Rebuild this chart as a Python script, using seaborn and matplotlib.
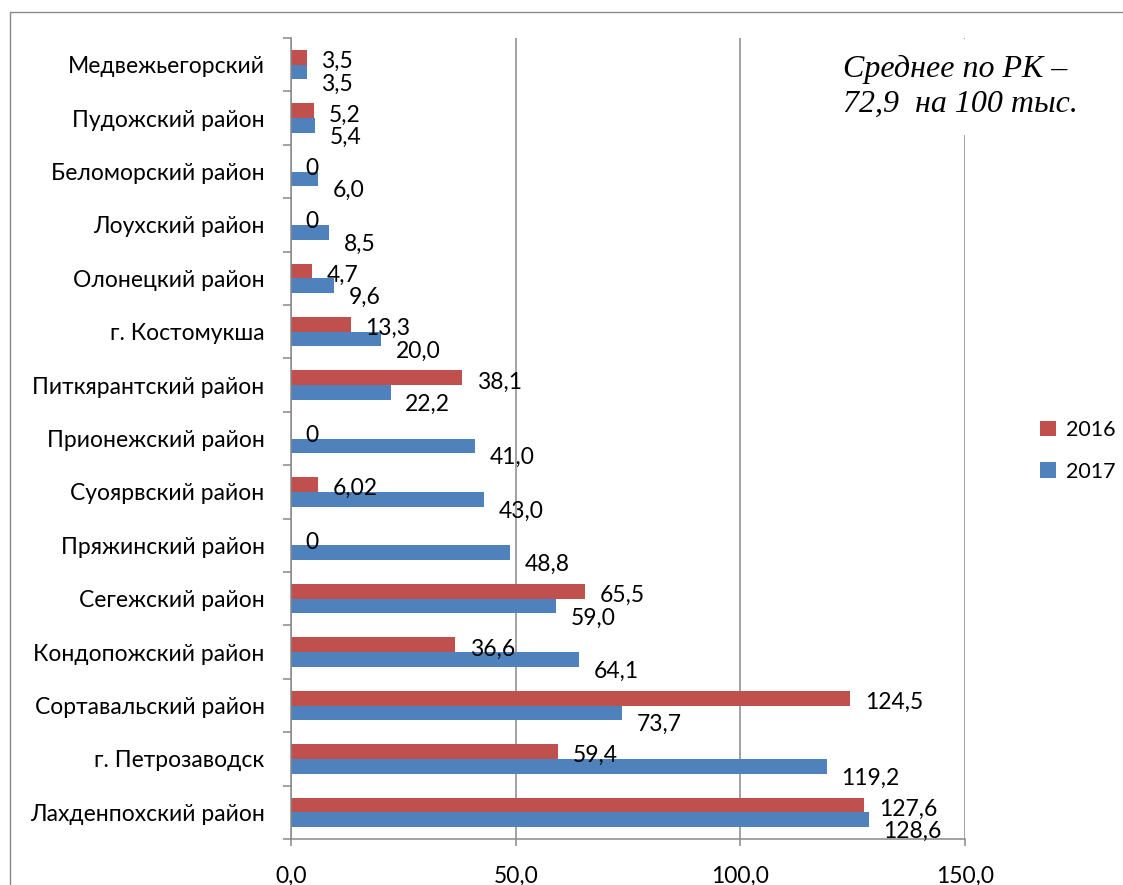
import numpy as np
import pandas as pd
import matplotlib.pyplot as plt
from matplotlib.patches import Rectangle
from matplotlib.ticker import FixedLocator
import seaborn as sns

# data (rate per 100 thousand)
districts = ["Медвежьегорский", "Пудожский район", "Беломорский район",
             "Лоухский район", "Олонецкий район", "г. Костомукша",
             "Питкярантский район", "Прионежский район", "Суоярвский район",
             "Пряжинский район", "Сегежский район", "Кондопожский район",
             "Сортавальский район", "г. Петрозаводск", "Лахденпохский район"]
vals_2016 = [3.5, 5.2, 0, 0, 4.7, 13.3, 38.1, 0, 6.02, 0, 65.5, 36.6, 124.5, 59.4, 127.6]
vals_2017 = [3.5, 5.4, 6.0, 8.5, 9.6, 20.0, 22.2, 41.0, 43.0, 48.8, 59.0, 64.1, 73.7, 119.2, 128.6]
years = ["2016", "2017"]
x_ticks = [0, 50, 100, 150]
note = "Среднее по РК –\n72,9  на 100 тыс."

colors = ["#C0504D", "#4F81BD"]
grid_col = "#898989"

df = pd.DataFrame({
    "district": districts * 2,
    "value": vals_2016 + vals_2017,
    "year": ["2016"] * len(districts) + ["2017"] * len(districts),
})

plt.rcParams['font.family'] = ['Lato', 'DejaVu Sans']
fs = 16.5

fig = plt.figure(figsize=(11.23, 8.85), dpi=100)
ax = fig.add_axes([291 / 1123, 1 - 839 / 885, 674 / 1123, 801 / 885])

sns.barplot(data=df, y="district", x="value", hue="year", hue_order=years,
            order=districts, palette=colors, width=0.55, orient="h",
            errorbar=None, ax=ax, saturation=1, linewidth=0)

ax.set_xlim(0, 150)
ax.set_ylim(len(districts) - 0.5, -0.5)
ax.set_xlabel("")
ax.set_ylabel("")

ax.set_xticks(x_ticks)
ax.set_xticklabels([f"{t:.1f}".replace(".", ",") for t in x_ticks], fontsize=fs)
ax.xaxis.grid(True, color=grid_col, linewidth=1.1)
ax.set_axisbelow(True)
ax.tick_params(axis="x", length=5, width=1.1, color=grid_col, pad=14)
ax.tick_params(axis="y", which="major", length=0, pad=19, labelsize=fs)
ax.yaxis.set_minor_locator(FixedLocator(np.arange(-0.5, len(districts), 1)))
ax.tick_params(axis="y", which="minor", length=6, width=1.1, color=grid_col)

for s in ["top", "right"]:
    ax.spines[s].set_visible(False)
for s in ["left", "bottom"]:
    ax.spines[s].set_color(grid_col)
    ax.spines[s].set_linewidth(1.1)

# data labels
offsets = [-3, -8.5]
for cont, dy in zip(ax.containers, offsets):
    for bar in cont:
        v = bar.get_width()
        txt = "0" if v == 0 else str(round(v, 2)).replace(".", ",")
        ax.annotate(txt, (v, bar.get_y() + bar.get_height() / 2),
                    xytext=(10.5, dy), textcoords="offset points",
                    ha="left", va="center", fontsize=fs, color="black")

ax.legend(loc="upper left", bbox_to_anchor=(1040 / 1123, 1 - 420 / 885),
          bbox_transform=fig.transFigure, frameon=False, fontsize=fs - 1,
          handlelength=0.75, handleheight=0.72, handletextpad=0.45,
          labelspacing=1.0, borderpad=0, borderaxespad=0)

fig.text(843 / 1123, 1 - 55 / 885, note, ha="left", va="top",
         fontsize=23, family="Liberation Serif", style="italic",
         linespacing=1.25,
         bbox=dict(boxstyle="square,pad=0.5", fc="white", ec="none"))

fig.patches.append(Rectangle((10 / 1123, -0.1), 1.2, 1.1 - 12 / 885,
                             transform=fig.transFigure, fill=False,
                             edgecolor=grid_col, linewidth=1))

fig.savefig("out.png", dpi=100)
